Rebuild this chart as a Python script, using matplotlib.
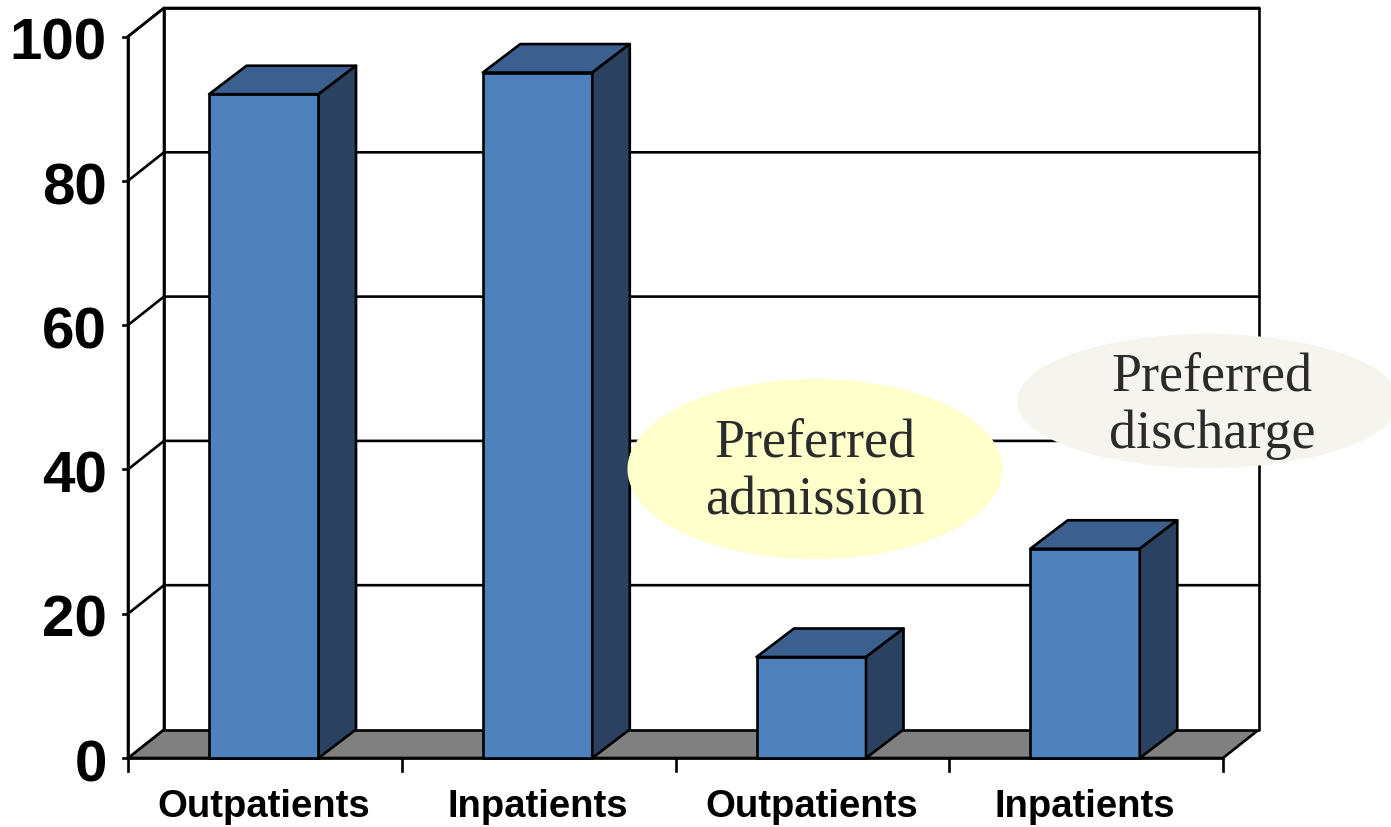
import matplotlib
matplotlib.use("Agg")
import matplotlib.pyplot as plt
from matplotlib.patches import Polygon, Ellipse

categories = ["Outpatients", "Inpatients", "Outpatients", "Inpatients"]
values = [92, 95, 14, 29]
yticks = [0, 20, 40, 60, 80, 100]

W, H = 1391, 828
fig = plt.figure(figsize=(W / 100, H / 100), dpi=100, facecolor="white")

# Front plane of the pseudo-3D chart
L, R, B, T = 128, 1223, 759, 37.5
ax = fig.add_axes([L / W, 1 - B / H, (R - L) / W, (B - T) / H])
ax.set_xlim(0, 4)
ax.set_ylim(0, 100)
ax.axis("off")

# Depth offset of the box and of the bars, in data units
dx = 36 / (R - L) * 4
dy = 28.5 / (B - T) * 100
bar_dx = 37.5 / (R - L) * 4
bar_w = 0.4
lw = 1.9
kw = dict(clip_on=False, edgecolor="black", linewidth=lw, joinstyle="round")

# Floor, back wall and gridlines
ax.add_patch(Polygon([(0, 0), (4, 0), (4 + dx, dy), (dx, dy)], facecolor="#808080", zorder=1, **kw))
ax.add_patch(Polygon([(dx, dy), (4 + dx, dy), (4 + dx, 100 + dy), (dx, 100 + dy)], facecolor="white", zorder=1, **kw))
ax.add_patch(Polygon([(0, 0), (dx, dy), (dx, 100 + dy), (0, 100)], facecolor="white", zorder=1, **kw))
for t in yticks[1:]:
    ax.plot([0, dx, 4 + dx], [t, t + dy, t + dy], color="black", lw=lw, clip_on=False, zorder=2)

# Axis lines, ticks and labels
ax.plot([0, 0], [0, 100], color="black", lw=lw, clip_on=False, zorder=3)
ax.plot([0, 4], [0, 0], color="black", lw=lw, clip_on=False, zorder=3)
for t in yticks:
    ax.plot([-0.0165, 0], [t, t], color="black", lw=lw, clip_on=False, zorder=3)
    ax.text(-0.078, t - 1.0, str(t), ha="right", va="center", fontsize=42,
            fontweight="bold", family="Liberation Sans")
for i in range(5):
    ax.plot([i, i], [0, -1.8], color="black", lw=lw, clip_on=False, zorder=3)

# Bars: front, top and side faces
for i, (cat, v) in enumerate(zip(categories, values)):
    x0 = i + 0.5 - bar_w / 2 - 0.004
    x1 = x0 + bar_w
    ax.add_patch(Polygon([(x0, 0), (x1, 0), (x1, v), (x0, v)], facecolor="#4f81bd", zorder=5, **kw))
    ax.add_patch(Polygon([(x0, v), (x1, v), (x1 + bar_dx, v + dy), (x0 + bar_dx, v + dy)], facecolor="#3b5f8e", zorder=5, **kw))
    ax.add_patch(Polygon([(x1, 0), (x1 + bar_dx, dy), (x1 + bar_dx, v + dy), (x1, v)], facecolor="#2a4260", zorder=5, **kw))
    ax.text(i + 0.5 - 0.004, -6.7, cat, ha="center", va="center", fontsize=27.5,
            fontweight="bold", family="Liberation Sans")

# Callout ellipses, placed on the full figure in pixels
over = fig.add_axes([0, 0, 1, 1])
over.set_xlim(0, W)
over.set_ylim(H, 0)
over.axis("off")
over.patch.set_alpha(0)
over.add_patch(Ellipse((815, 470), 375, 180, facecolor="#ffffcc", edgecolor="none"))
over.add_patch(Ellipse((1208, 402), 382, 134, facecolor="#f5f4ef", edgecolor="none"))
over.text(815, 472, "Preferred\nadmission", ha="center", va="center", fontsize=39,
          family="Liberation Serif", color="#2b2b2b", linespacing=1.2)
over.text(1212, 406, "Preferred\ndischarge", ha="center", va="center", fontsize=39,
          family="Liberation Serif", color="#2b2b2b", linespacing=1.2)

fig.savefig("out.png", dpi=100, facecolor="white")
